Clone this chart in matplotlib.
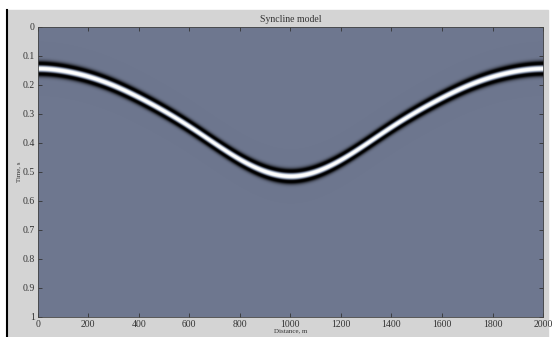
import numpy as np
import matplotlib
matplotlib.use('Agg')
from matplotlib import pyplot as plt
from matplotlib.colors import LinearSegmentedColormap, TwoSlopeNorm
from matplotlib.patches import Rectangle
from matplotlib.lines import Line2D

# reflector two-way time (s), every 100 m
distance = [0, 100, 200, 300, 400, 500, 600, 700, 800, 900, 1000,
            1100, 1200, 1300, 1400, 1500, 1600, 1700, 1800, 1900, 2000]
reflector_time = [0.143, 0.152, 0.172, 0.203, 0.245, 0.292, 0.345, 0.405, 0.462, 0.505, 0.523,
                  0.505, 0.462, 0.405, 0.345, 0.292, 0.245, 0.203, 0.172, 0.152, 0.143]
peak_freq = 22.0  # Hz
x_ticks = [0, 200, 400, 600, 800, 1000, 1200, 1400, 1600, 1800, 2000]
y_ticks = [0, 0.1, 0.2, 0.3, 0.4, 0.5, 0.6, 0.7, 0.8, 0.9, 1.0]

def ricker(t, f):
    a = (np.pi * f * t) ** 2
    return (1 - 2 * a) * np.exp(-a)

xs = np.linspace(0, 2000, 1000)
ts = np.linspace(0, 1, 900)
t0 = np.interp(xs, distance, reflector_time)
# soften the corners of the piecewise-linear trace of the reflector
k = np.exp(-0.5 * (np.arange(-60, 61) * (xs[1] - xs[0]) / 45.0) ** 2)
k /= k.sum()
t0 = np.convolve(np.pad(t0, 60, mode='reflect'), k, mode='valid')
section = ricker(ts[:, None] - t0[None, :], peak_freq)

cmap = LinearSegmentedColormap.from_list(
    'seis', [(0.0, '#000000'), (0.5, '#6e778f'), (0.72, '#a9b6c6'), (1.0, '#ffffff')])

fig = plt.figure(figsize=(5.53, 3.37), dpi=100, facecolor='white')
fig.patches.append(Rectangle((8 / 553, 0), 540 / 553, 1 - 10 / 337,
                             transform=fig.transFigure, color='#d4d4d4', zorder=-10))
fig.lines.append(Line2D([7 / 553, 7 / 553], [0, 1 - 10 / 337], transform=fig.transFigure,
                        color='black', lw=1.5))

ax = fig.add_axes([0.068, 0.060, 0.914, 0.861])
ax.imshow(section, cmap=cmap, norm=TwoSlopeNorm(0, -0.38, 0.75), aspect='auto',
          extent=[0, 2000, 1, 0], interpolation='bilinear')
ax.set_xlim(0, 2000)
ax.set_ylim(1, 0)
ax.set_xticks(x_ticks)
ax.set_yticks(y_ticks)
ax.set_yticklabels(['%g' % v for v in y_ticks])
ax.tick_params(direction='in', top=True, right=True, length=3, width=0.6,
               labelsize=7, colors='#333333', pad=2)
for lab in ax.get_xticklabels() + ax.get_yticklabels():
    lab.set_family('Liberation Serif')
for sp in ax.spines.values():
    sp.set_linewidth(0.6)
    sp.set_color('#444444')

ax.set_title('Syncline model', fontsize=7, family='Liberation Serif', color='#333333', pad=3)
ax.set_xlabel('Distance, m', fontsize=5, family='Liberation Serif', color='#333333', labelpad=0)
ax.set_ylabel('Time, s', fontsize=5, family='Liberation Serif', color='#333333', labelpad=1)

fig.savefig('out.png', dpi=100, facecolor=fig.get_facecolor())
